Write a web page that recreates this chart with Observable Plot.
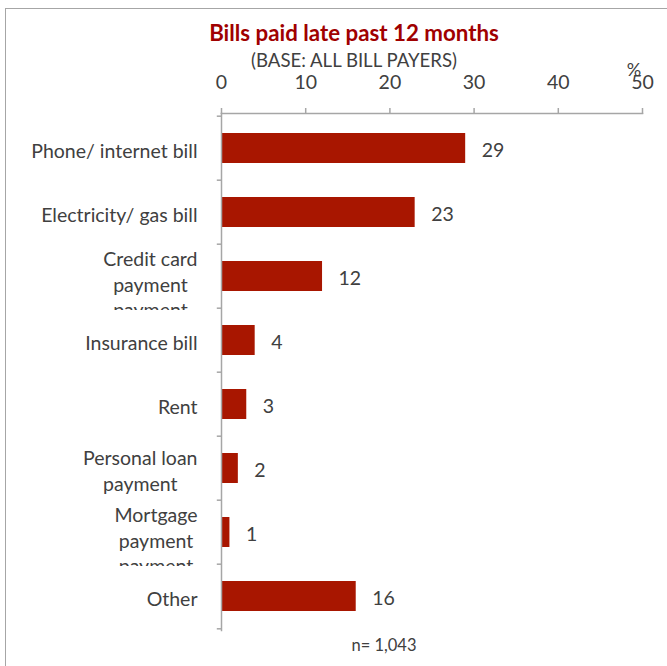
<!DOCTYPE html>
<html><head><meta charset="utf-8">
<script src="https://cdn.jsdelivr.net/npm/d3@7"></script>
<script src="https://cdn.jsdelivr.net/npm/@observablehq/plot@0.6"></script>
<style>
body{margin:0;background:#fff;}
#wrap{position:relative;width:667px;height:666px;overflow:hidden;font-family:Lato,sans-serif;color:#404040;background:#fff;}
#frame{position:absolute;left:5px;top:8px;width:720px;height:720px;border:1.5px solid #a6a6a6;box-sizing:border-box;}
#chart{position:absolute;left:0;top:0;}
.t{position:absolute;line-height:1;white-space:nowrap;transform:translateX(-50%);}
#title{left:354px;top:22px;font-size:22.3px;font-weight:bold;color:#A00000;}
#subtitle{left:354px;top:51px;font-size:18.6px;}
#pct{left:634px;top:60px;font-size:18px;}
#note{left:384px;top:637px;font-size:16.5px;}
</style></head>
<body>
<div id="wrap">
  <div id="frame"></div>
  <div id="chart"></div>
  <div class="t" id="title">Bills paid late past 12 months</div>
  <div class="t" id="subtitle">(BASE: ALL BILL PAYERS)</div>
  <div class="t" id="pct">%</div>
  <div class="t" id="note">n= 1,043</div>
</div>
<script>
const categories = ["Phone/ internet bill","Electricity/ gas bill","Credit card payment","Insurance bill","Rent","Personal loan payment","Mortgage payment","Other"];
const categoryLabels = ["Phone/ internet bill","Electricity/ gas bill","Credit card\npayment\npayment","Insurance bill","Rent","Personal loan\npayment","Mortgage\npayment\npayment","Other"];
const values = [29,23,12,4,3,2,1,16];
const xTicks = [0,10,20,30,40,50];

const data = categories.map((c,i)=>({cat:c, label:categoryLabels[i], value:values[i], lines:categoryLabels[i].split("\n").length}));

const W = 667, H = 666, mT = 113, mB = 36, mL = 221, mR = 25;
const step = (H - mT - mB) / categories.length;
const axisColor = "#a6a6a6", textColor = "#404040", barColor = "#A81600";
const fs = 19.5;
const lineDy = {1: 1, 2: 1.3, 3: 7};

const labelMarks = [1,2,3].map(n => Plot.text(data.filter(d => d.lines === n), {
  y: "cat", text: "label", frameAnchor: "left", textAnchor: "end", dx: -24, dy: lineDy[n],
  lineHeight: 25.5/fs, fill: textColor, fontSize: fs, className: "ylab"
}));

const chart = Plot.plot({
  width: W, height: H, marginTop: mT, marginBottom: mB, marginLeft: mL, marginRight: mR,
  style: {fontFamily: "Lato, sans-serif", fontSize: fs + "px", color: textColor, background: "transparent", overflow: "visible"},
  x: {domain: [0, 50], axis: null},
  y: {domain: categories, padding: 0, axis: null},
  marks: [
    Plot.barX(data, {x: "value", y: "cat", fill: barColor, insetTop: 17, insetBottom: 17}),
    Plot.axisX(xTicks, {anchor: "top", tickSize: 6, tickPadding: 19, stroke: axisColor, strokeWidth: 1.5, fill: textColor, fontSize: fs, label: null, tickFormat: d => String(d)}),
    Plot.frame({anchor: "top", stroke: axisColor, strokeWidth: 1.5}),
    Plot.frame({anchor: "left", stroke: axisColor, strokeWidth: 1.5}),
    Plot.ruleY(categories, {y: d => d, x1: -0.5, x2: 0, dy: -step/2, stroke: axisColor, strokeWidth: 1.5}),
    Plot.ruleY(categories.slice(-1), {y: d => d, x1: -0.5, x2: 0, dy: step/2, stroke: axisColor, strokeWidth: 1.5}),
    ...labelMarks,
    Plot.text(data, {x: "value", y: "cat", text: d => String(d.value), textAnchor: "start", dx: 16, dy: 2.7, fill: textColor, fontSize: fs})
  ]
});
document.getElementById("chart").appendChild(chart);

// Center the lines of wrapped labels among themselves and clip each label to its own band
const ys = chart.scale("y");
const bw = ys.bandwidth || step;
const svg = d3.select(chart);
let defs = svg.select("defs");
if (defs.empty()) defs = svg.insert("defs", ":first-child");
const byText = new Map(data.map(d => [d.label.replace(/\n/g, ""), d.cat]));
svg.selectAll("g.ylab text").each(function() {
  const cat = byText.get(this.textContent);
  if (!cat) return;
  const spans = this.querySelectorAll("tspan");
  if (spans.length > 1) {
    const w = this.getBBox().width;
    this.setAttribute("text-anchor", "middle");
    spans.forEach(s => s.setAttribute("x", -w / 2));
  }
  const m = this.getCTM();
  const top = ys.apply(cat);
  const id = "clip-lab-" + categories.indexOf(cat);
  defs.append("clipPath").attr("id", id).attr("clipPathUnits", "userSpaceOnUse")
    .append("rect").attr("x", -m.e).attr("y", top - m.f).attr("width", mL).attr("height", bw + 2);
  this.setAttribute("clip-path", `url(#${id})`);
});
</script>
</body></html>
